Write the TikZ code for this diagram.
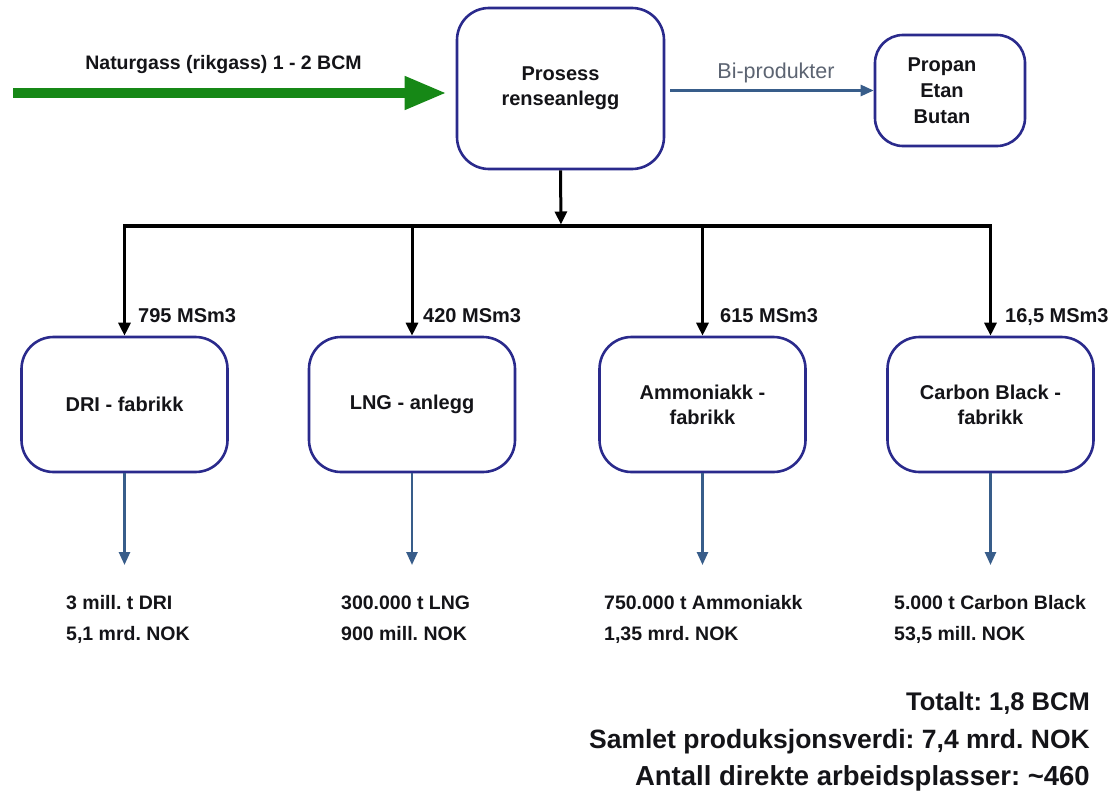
\documentclass[tikz,border=0pt]{standalone}
\usepackage{fontspec}
\setmainfont{Liberation Sans}
\usetikzlibrary{arrows.meta}
\definecolor{boxblue}{RGB}{42,42,140}
\definecolor{lineblue}{RGB}{56,93,138}
\definecolor{gasgreen}{RGB}{22,136,22}
\definecolor{bigray}{RGB}{92,100,114}
\definecolor{txt}{RGB}{20,20,24}
\frenchspacing
\begin{document}
\frenchspacing
\begin{tikzpicture}[x=1pt,y=-1pt,
  box/.style={draw=boxblue, line width=2.6pt, rounded corners=32pt, fill=white, align=center, inner sep=0pt, text=txt, font=\bfseries\fontsize{20}{25}\selectfont},
  bigbox/.style={box, minimum width=206pt, minimum height=135pt},
  blk/.style={line width=3pt, -{Triangle[length=13pt,width=12pt]}},
  blu/.style={draw=lineblue, line width=2.5pt, -{Triangle[length=13pt,width=11pt]}},
  lbl/.style={font=\bfseries\fontsize{20}{24}\selectfont, text=txt, anchor=base west, inner sep=0pt},
  res/.style={font=\bfseries\fontsize{19.5}{24}\selectfont, text=txt, anchor=base west, inner sep=0pt},
  tot/.style={anchor=base east, inner sep=0pt, text=txt},
]
\useasboundingbox (0,0) rectangle (1111,792);
\fill[white] (0,0) rectangle (1111,792);

% top row
\node[box, minimum width=207pt, minimum height=161pt] (P) at (560.5,88.5) {Prosess\\renseanlegg};
\node[box, minimum width=150pt, minimum height=111pt, rounded corners=28pt] (B) at (950,90.5) {};
\node[align=center, inner sep=0pt, text=txt, font=\bfseries\fontsize{20}{26}\selectfont] (Btxt) at (942,90.5) {Propan\\Etan\\Butan};

\coordinate (gs) at (13,93);
\draw[gasgreen, line width=10pt, -{Triangle[length=42pt,width=31pt]}, shorten >=9pt] (gs) -- (P.west |- gs);
\node[font=\bfseries\fontsize{19.5}{24}\selectfont, text=txt, anchor=base, inner sep=0pt] (ng) at (223.5,70) {Naturgass (rikgass) 1 - 2 BCM};

\draw[blu, shorten <=5pt] (P.east |- B.west) -- (B.west);
\node[font=\fontsize{21.5}{24}\selectfont, text=bigray, anchor=base, inner sep=0pt] (bl) at (776,78) {Bi-produkter};

% distribution bus
\coordinate (bus) at (561,226);
\coordinate (busL) at (124.5,226);
\coordinate (busR) at (990.5,226);
\draw[blk, shorten >=1.5pt] (P.south) -- (bus);
\draw[line width=3.5pt, line cap=rect] (busL) -- (busR);

% plants
\node[bigbox] (D) at (124.5,404.5) {DRI - fabrikk};
\node[bigbox] (L) at (412,404.5) {LNG - anlegg};
\node[bigbox] (A) at (702.5,404.5) {Ammoniakk -\\fabrikk};
\node[bigbox] (C) at (990.5,404.5) {Carbon Black -\\fabrikk};

\draw[blk] (D.north |- bus) -- (D.north);
\draw[blk] (L.north |- bus) -- (L.north);
\draw[blk] (A.north |- bus) -- (A.north);
\draw[blk] (C.north |- bus) -- (C.north);

\node[lbl] (l1) at (138,322) {795 MSm3};
\node[lbl] (l2) at (423,322) {420 MSm3};
\node[lbl] (l3) at (720,322) {615 MSm3};
\node[lbl] (l4) at (1005,322) {16,5 MSm3};

% outputs
\coordinate (o1) at (124.5,565);
\coordinate (o2) at (412,565);
\coordinate (o3) at (702.5,565);
\coordinate (o4) at (990.5,565);
\draw[blu] (D.south) -- (o1);
\draw[blu] (L.south) -- (o2);
\draw[blu] (A.south) -- (o3);
\draw[blu] (C.south) -- (o4);

\node[res] (r1a) at (66,609) {3 mill. t DRI};
\node[res] (r1b) at (66,640) {5,1 mrd. NOK};
\node[res] (r2a) at (341,609) {300.000 t LNG};
\node[res] (r2b) at (341,640) {900 mill. NOK};
\node[res] (r3a) at (604,609) {750.000 t Ammoniakk};
\node[res] (r3b) at (604,640) {1,35 mrd. NOK};
\node[res] (r4a) at (894,609) {5.000 t Carbon Black};
\node[res] (r4b) at (894,640) {53,5 mill. NOK};

% totals
\node[tot, font=\bfseries\fontsize{25.5}{30}\selectfont] (t1) at (1090,710) {Totalt: 1,8 BCM};
\node[tot, font=\bfseries\fontsize{26.5}{30}\selectfont] (t2) at (1090,748) {Samlet produksjonsverdi: 7,4 mrd. NOK};
\node[tot, font=\bfseries\fontsize{27.5}{30}\selectfont] (t3) at (1090,785) {Antall direkte arbeidsplasser: \textasciitilde 460};
\end{tikzpicture}
\end{document}
